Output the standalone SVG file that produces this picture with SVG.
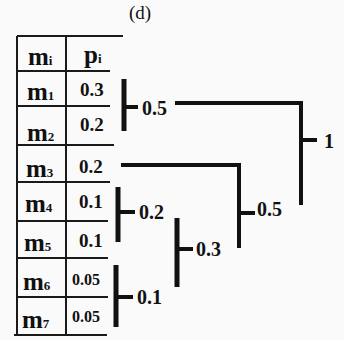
<svg xmlns="http://www.w3.org/2000/svg" width="344" height="340" viewBox="0 0 344 340">
  <style>
    .bg { fill: #fafafa; }
    .grid { stroke: #1a1a1a; stroke-width: 2; fill: none; }
    .m { font-family: "Liberation Serif", "Times New Roman", serif; font-weight: bold; font-size: 25px; fill: #111; }
    .sub { font-size: 13px; }
    .p { font-family: "Liberation Serif", "Times New Roman", serif; font-weight: bold; font-size: 19px; fill: #111; }
    .ps { font-size: 16px; }
    .lbl { font-family: "Liberation Serif", "Times New Roman", serif; font-weight: bold; font-size: 20px; fill: #111; }
    .title { font-family: "Liberation Serif", "Times New Roman", serif; font-size: 19px; fill: #111; }
    .bar { stroke: #111; stroke-width: 5; fill: none; }
    .tick { stroke: #111; stroke-width: 4; fill: none; }
    .wire { stroke: #111; stroke-width: 4; fill: none; stroke-linejoin: miter; }
  </style>
  <rect class="bg" x="0" y="0" width="344" height="340"/>

  <text class="title" x="129" y="19">(d)</text>

  <!-- probability table -->
  <g id="table">
    <path class="grid" d="M17 36V335 M66 36V335 M17 36H123 M17 71H110 M17 106H110 M17 145H114 M17 182H110 M17 221H108 M17 258H108 M17 297H108 M14 335H107"/>
    <text class="m" x="28" y="65">m<tspan class="sub">i</tspan></text>
    <text class="m" x="84" y="63">p<tspan class="sub">i</tspan></text>
    <text class="m" x="27" y="100">m<tspan class="sub">1</tspan></text>
    <text class="p" x="80" y="96">0.3</text>
    <text class="m" x="27" y="141">m<tspan class="sub">2</tspan></text>
    <text class="p" x="80" y="131">0.2</text>
    <text class="m" x="26" y="177">m<tspan class="sub">3</tspan></text>
    <text class="p" x="79" y="173">0.2</text>
    <text class="m" x="25" y="212">m<tspan class="sub">4</tspan></text>
    <text class="p" x="79" y="208">0.1</text>
    <text class="m" x="24" y="251">m<tspan class="sub">5</tspan></text>
    <text class="p" x="79" y="247">0.1</text>
    <text class="m" x="23" y="290">m<tspan class="sub">6</tspan></text>
    <text class="p ps" x="72" y="285">0.05</text>
    <text class="m" x="22" y="328">m<tspan class="sub">7</tspan></text>
    <text class="p ps" x="72" y="322">0.05</text>
  </g>

  <!-- merge brackets -->
  <g id="n05a">
    <path class="bar" d="M124 79V131"/>
    <path class="tick" d="M124 107H138"/>
    <text class="lbl" x="142" y="115">0.5</text>
  </g>
  <g id="n02">
    <path class="bar" d="M118 187V242"/>
    <path class="tick" d="M118 212H135"/>
    <text class="lbl" x="139" y="219">0.2</text>
  </g>
  <g id="n01">
    <path class="bar" d="M116 265V327"/>
    <path class="tick" d="M116 297H133"/>
    <text class="lbl" x="137" y="304">0.1</text>
  </g>
  <g id="n03">
    <path class="bar" d="M177 218V287"/>
    <path class="tick" d="M177 249H193"/>
    <text class="lbl" x="196" y="256">0.3</text>
  </g>
  <g id="n05b">
    <path class="tick" d="M239 213H255"/>
    <text class="lbl" x="257" y="216">0.5</text>
  </g>
  <g id="n1">
    <path class="tick" d="M301 140H317"/>
    <text class="lbl" x="324" y="148">1</text>
  </g>

  <!-- connectors -->
  <g id="connectors">
    <path class="wire" d="M175 103H301V205"/>
    <path class="wire" d="M121 165H239V248"/>
  </g>
</svg>
